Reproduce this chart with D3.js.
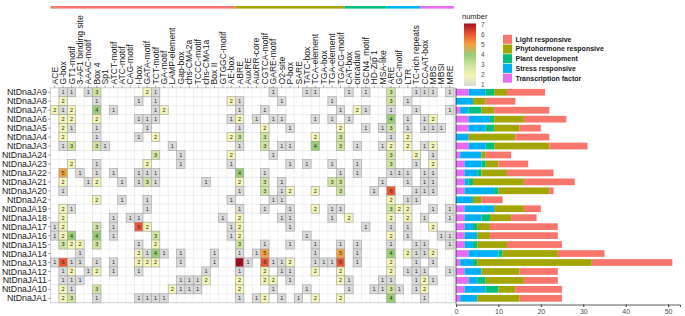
<!DOCTYPE html>
<html>
<head>
<meta charset="utf-8">
<script src="https://cdn.jsdelivr.net/npm/d3@7"></script>
<style>
  body { margin: 0; background: #fff; }
  svg { font-family: "Liberation Sans", Arial, sans-serif; display: block; }
</style>
</head>
<body>
<svg id="chart" width="685" height="316"></svg>
<script>
// Cis-element names, in the order of the columns.
const motifs = [
  'ACE', 'G-box', 'GT1-motif', '3-AF1 binding site', 'AAAC-motif', 'Box 4', 'Sp1', 'ATCT-motif',
  'ATC-motif', 'CAG-motif', 'I-box', 'GATA-motif', 'TCT-motif', 'GA-motif', 'LAMP-element', 'Gap-box',
  'chs-CMA2a', 'TCCC-motif', 'chs-CMA1a', 'Box II', 'GTGGC-motif', 'AE-box',
  'ABRE', 'AuxRE', 'AuxRR-core', 'CGTCA-motif', 'GARE-motif', 'O2-site', 'P-box', 'SARE', 'TATC-box',
  'TCA-element', 'TGA-box', 'TGA-element', 'TGACG-motif',
  'CAT-box', 'circadian', 'GCN4_motif', 'HD-Zip 1', 'MSA-like',
  'ARE', 'GC-motif', 'LTR', 'TC-rich repeats',
  'CCAAT-box', 'MBS', 'MBSI', 'MRE'
];

const groups = ['Light responsive', 'Phytohormone responsive', 'Plant development', 'Stress responsive', 'Transcription factor'];
const groupSizes = [22, 13, 5, 4, 4];
const groupColors = ['#F8766D', '#A3A500', '#00BF7D', '#00B0F6', '#E76BF3'];

const genes = [
  'NtDnaJA9', 'NtDnaJA8', 'NtDnaJA7', 'NtDnaJA6', 'NtDnaJA5', 'NtDnaJA4', 'NtDnaJA3', 'NtDnaJA24',
  'NtDnaJA23', 'NtDnaJA22', 'NtDnaJA21', 'NtDnaJA20', 'NtDnaJA2', 'NtDnaJA19', 'NtDnaJA18', 'NtDnaJA17',
  'NtDnaJA16', 'NtDnaJA15', 'NtDnaJA14', 'NtDnaJA13', 'NtDnaJA12', 'NtDnaJA11', 'NtDnaJA10', 'NtDnaJA1'
];

// Counts per gene: light (22) | phytohormone (13) | development (5) | stress (4) | TF (4)
const counts = [
  [0,1,1,0,1,3,0,0,0,0,0,2,1,0,0,0,0,0,0,0,0,0, 0,0,0,0,1,0,0,0,1,1,0,0,0, 1,0,1,0,0, 3,0,0,1, 1,1,0,1],
  [0,2,0,0,0,1,0,0,0,0,1,0,1,0,0,0,0,0,0,0,0,2, 1,0,0,0,0,1,0,0,0,0,0,1,0, 0,0,0,0,0, 3,0,1,0, 0,0,0,0],
  [2,1,2,0,0,4,0,1,0,0,0,0,1,2,0,0,0,0,0,0,0,0, 1,0,0,1,0,0,0,0,0,0,0,0,1, 0,2,1,0,0, 1,0,0,1, 0,0,0,1],
  [0,2,2,0,0,2,0,0,0,0,1,1,1,0,0,0,0,0,0,0,0,1, 2,0,1,0,1,1,0,0,0,1,0,1,0, 1,0,0,0,0, 4,0,1,0, 1,2,0,0],
  [0,2,1,0,0,1,0,0,0,0,0,1,0,0,0,0,0,0,0,0,0,0, 1,0,0,2,0,0,1,0,0,0,0,0,2, 0,0,1,0,1, 3,0,1,0, 1,1,1,0],
  [0,2,0,0,0,1,0,0,0,0,1,0,2,0,0,0,0,0,0,0,0,2, 3,0,0,3,0,0,0,0,0,2,0,0,3, 0,0,0,0,0, 1,0,2,0, 0,0,0,0],
  [0,1,3,0,0,3,1,0,0,0,0,0,0,0,1,0,0,0,0,0,0,0, 1,0,0,3,0,1,1,0,0,4,0,0,3, 0,1,0,0,1, 2,0,2,0, 1,2,0,0],
  [0,0,0,0,0,0,0,0,0,0,0,0,3,0,0,1,0,0,0,0,0,2, 0,0,0,0,1,0,0,0,0,0,0,0,0, 0,0,0,0,0, 3,0,0,2, 0,1,0,0],
  [0,0,2,0,0,1,0,0,0,0,0,2,0,0,0,1,0,0,0,0,0,1, 0,0,0,0,0,0,1,0,1,0,0,1,0, 0,1,0,0,0, 3,0,0,1, 0,2,0,0],
  [0,5,0,1,0,1,0,1,0,0,1,1,1,0,0,0,0,0,0,0,0,0, 4,0,0,1,0,0,0,0,0,0,0,0,1, 0,1,0,0,0, 1,1,1,0, 1,1,0,0],
  [0,2,0,0,1,2,0,0,1,0,1,3,1,0,0,0,0,0,1,0,0,0, 2,0,0,3,0,1,0,0,0,0,0,3,3, 0,0,0,0,1, 0,0,1,0, 1,1,0,0],
  [0,1,0,0,0,0,0,0,0,0,0,0,0,0,0,0,0,0,0,0,0,0, 1,0,0,3,0,1,2,0,0,2,0,0,3, 0,0,0,1,0, 6,0,0,1, 1,1,0,0],
  [0,0,0,0,0,2,0,0,1,0,0,1,0,0,0,0,0,0,0,0,0,1, 0,0,0,0,1,1,0,0,0,0,0,0,0, 0,0,0,0,0, 2,0,1,1, 0,0,0,0],
  [0,2,1,0,0,0,0,0,0,0,0,1,0,0,0,0,0,0,0,0,0,0, 1,0,0,1,0,0,1,0,0,2,0,1,1, 0,0,0,0,0, 3,2,2,0, 0,1,0,1],
  [0,2,0,0,0,0,0,1,0,1,1,0,0,0,0,0,0,0,0,0,1,0, 2,0,0,0,0,1,1,0,0,0,0,1,0, 2,0,0,0,0, 2,0,2,0, 1,0,0,1],
  [1,2,0,0,0,3,0,1,0,0,6,2,0,0,0,0,0,0,0,0,0,1, 2,0,0,0,0,0,1,0,0,0,0,0,0, 0,0,1,0,0, 1,0,1,0, 0,2,0,0],
  [1,2,4,0,0,4,0,1,0,0,0,0,3,0,0,0,0,0,0,0,0,1, 2,0,0,0,0,0,0,0,1,0,0,0,0, 0,0,0,0,0, 2,0,1,0, 0,0,1,1],
  [0,3,2,2,0,3,0,0,0,0,1,0,2,0,0,0,0,0,0,0,0,0, 3,0,0,1,0,0,1,0,0,1,0,0,1, 0,1,0,0,0, 1,0,0,1, 1,0,0,1],
  [0,0,0,1,0,0,0,0,0,0,2,1,4,1,0,1,0,0,0,1,0,0, 1,0,1,5,0,0,0,0,0,1,0,0,5, 0,1,0,0,0, 4,0,2,1, 1,2,0,0],
  [1,6,1,1,0,1,0,1,0,0,2,2,2,0,0,1,0,0,0,1,0,0, 7,1,0,6,1,1,2,0,0,1,1,1,6, 0,1,0,0,0, 2,0,0,1, 0,1,0,0],
  [0,1,2,0,1,2,0,1,0,0,1,0,0,0,0,0,0,0,1,0,0,0, 1,0,0,2,0,1,1,0,0,2,0,0,2, 0,0,0,0,0, 2,0,1,1, 1,0,0,1],
  [0,1,1,1,0,0,0,0,0,0,0,0,0,0,0,1,1,1,2,0,0,0, 2,0,0,2,2,0,1,0,0,0,0,0,2, 1,0,0,0,1, 1,0,0,1, 2,1,0,0],
  [0,2,1,0,0,3,0,0,0,0,0,0,0,0,2,1,1,1,0,0,0,0, 2,0,0,0,1,0,0,0,1,0,0,0,0, 1,0,0,1,1, 3,1,0,1, 2,0,0,0],
  [0,2,3,0,0,1,0,0,0,0,1,1,1,1,0,0,0,0,0,0,0,0, 1,0,1,2,0,1,0,1,0,2,0,0,2, 0,0,0,0,0, 4,0,0,0, 1,0,0,0]
];

const legendValues = [1, 2, 3, 4, 5, 6, 7];
const legendColors = ['#dadada', '#f4f4b6', '#cde59e', '#98cd74', '#f5a03e', '#ec5530', '#a50f22'];
const barTicks = [0, 10, 20, 30, 40, 50];

const svg = d3.select('#chart');

const x = d3.scaleBand().domain(motifs).range([50.5, 454]);
const y = d3.scaleBand().domain(genes).range([87.8, 302.8]);
const color = d3.scaleLinear().domain(legendValues).range(legendColors);

// Which group every motif belongs to.
const motifGroup = groupSizes.flatMap((n, i) => d3.range(n).map(() => i));

// Panel grid.
const grid = svg.append('g');
grid.selectAll('line.v')
  .data(d3.range(motifs.length + 1))
  .join('line')
  .attr('x1', i => 50.5 + i * x.step())
  .attr('x2', i => 50.5 + i * x.step())
  .attr('y1', y.range()[0])
  .attr('y2', y.range()[1])
  .attr('stroke', '#e6e6e6')
  .attr('stroke-width', 0.6);
grid.selectAll('line.h')
  .data(d3.range(genes.length + 1))
  .join('line')
  .attr('x1', x.range()[0])
  .attr('x2', x.range()[1])
  .attr('y1', i => y.range()[0] + i * y.step())
  .attr('y2', i => y.range()[0] + i * y.step())
  .attr('stroke', '#e6e6e6')
  .attr('stroke-width', 0.6);

svg.append('rect')
  .attr('x', x.range()[0]).attr('y', y.range()[0])
  .attr('width', x.range()[1] - x.range()[0])
  .attr('height', y.range()[1] - y.range()[0])
  .attr('fill', 'none')
  .attr('stroke', '#c8c8c8')
  .attr('stroke-width', 0.7);

// Group strip above the column labels.
let start = 0;
groupSizes.forEach((n, i) => {
  svg.append('rect')
    .attr('x', x(motifs[start]))
    .attr('y', 6)
    .attr('width', n * x.step())
    .attr('height', 2.6)
    .attr('fill', groupColors[i]);
  start += n;
});

// Cells.
const cells = [];
counts.forEach((row, r) => row.forEach((v, c) => {
  if (v > 0) cells.push({ gene: genes[r], motif: motifs[c], value: v });
}));

svg.append('g').selectAll('rect')
  .data(cells)
  .join('rect')
  .attr('x', d => x(d.motif))
  .attr('y', d => y(d.gene))
  .attr('width', x.bandwidth())
  .attr('height', y.bandwidth())
  .attr('fill', d => color(d.value))
  .attr('stroke', '#a3a3a3')
  .attr('stroke-width', 0.6);

svg.append('g').selectAll('text')
  .data(cells)
  .join('text')
  .attr('x', d => x(d.motif) + x.bandwidth() / 2)
  .attr('y', d => y(d.gene) + y.bandwidth() / 2)
  .attr('dy', '0.35em')
  .attr('text-anchor', 'middle')
  .attr('font-size', 5.5)
  .attr('fill', '#2b2b2b')
  .text(d => d.value);

// Column labels and ticks.
svg.append('g').selectAll('line')
  .data(motifs)
  .join('line')
  .attr('x1', d => x(d) + x.bandwidth() / 2)
  .attr('x2', d => x(d) + x.bandwidth() / 2)
  .attr('y1', 85.6)
  .attr('y2', 87.8)
  .attr('stroke', '#555')
  .attr('stroke-width', 0.5);

svg.append('g').selectAll('text')
  .data(motifs)
  .join('text')
  .attr('transform', d => `translate(${x(d) + x.bandwidth() / 2},84.5) rotate(-90)`)
  .attr('dy', '0.35em')
  .attr('font-size', 8.6)
  .attr('fill', '#1a1a1a')
  .text(d => d);

// Row labels and ticks.
svg.append('g').selectAll('line')
  .data(genes)
  .join('line')
  .attr('x1', 48)
  .attr('x2', 50.5)
  .attr('y1', d => y(d) + y.bandwidth() / 2)
  .attr('y2', d => y(d) + y.bandwidth() / 2)
  .attr('stroke', '#555')
  .attr('stroke-width', 0.5);

svg.append('g').selectAll('text')
  .data(genes)
  .join('text')
  .attr('x', 47)
  .attr('y', d => y(d) + y.bandwidth() / 2)
  .attr('dy', '0.35em')
  .attr('text-anchor', 'end')
  .attr('font-size', 8.8)
  .attr('fill', '#1a1a1a')
  .text(d => d);

// Stacked bars: totals per group for each gene.
const totals = counts.map(row => {
  const t = [0, 0, 0, 0, 0];
  row.forEach((v, c) => { t[motifGroup[c]] += v; });
  return t;
});

const xb = d3.scaleLinear().domain([0, 52.8]).range([456, 680]);
const stack = d3.stack().keys([4, 3, 2, 1, 0]).value((d, k) => d[k]);
const series = stack(totals);
const barH = y.bandwidth() * 0.75;

svg.append('g').selectAll('g')
  .data(series)
  .join('g')
  .attr('fill', s => groupColors[s.key])
  .selectAll('rect')
  .data(s => s.map((p, i) => ({ p, gene: genes[i] })))
  .join('rect')
  .attr('x', d => xb(d.p[0]))
  .attr('width', d => xb(d.p[1]) - xb(d.p[0]))
  .attr('y', d => y(d.gene) + (y.bandwidth() - barH) / 2)
  .attr('height', barH);

const xAxis = svg.append('g')
  .attr('transform', 'translate(0,304.5)')
  .call(d3.axisBottom(xb).tickValues(barTicks).tickSize(2.5).tickPadding(2));
xAxis.select('.domain').attr('stroke', '#333').attr('stroke-width', 0.8);
xAxis.selectAll('.tick line').attr('stroke', '#333');
xAxis.selectAll('text').attr('font-size', 7).attr('fill', '#4d4d4d').attr('font-family', null);

svg.append('line')
  .attr('x1', 456).attr('x2', 456)
  .attr('y1', y.range()[0]).attr('y2', 304.5)
  .attr('stroke', '#333').attr('stroke-width', 0.8);

// Colour legend.
svg.append('text')
  .attr('x', 462).attr('y', 19)
  .attr('font-size', 7.5)
  .attr('fill', '#1a1a1a')
  .text('number');

const ly = d3.scaleLinear().domain([1, 7]).range([84.5, 25]);
const grad = svg.append('defs').append('linearGradient')
  .attr('id', 'numGrad')
  .attr('x1', 0).attr('y1', 1).attr('x2', 0).attr('y2', 0);
grad.selectAll('stop')
  .data(legendValues)
  .join('stop')
  .attr('offset', d => (d - 1) / 6)
  .attr('stop-color', d => color(d));

svg.append('rect')
  .attr('x', 464).attr('y', 23.5)
  .attr('width', 12).attr('height', 62.5)
  .attr('fill', 'url(#numGrad)');

svg.append('g').selectAll('text')
  .data(legendValues)
  .join('text')
  .attr('x', 481)
  .attr('y', d => ly(d))
  .attr('dy', '0.35em')
  .attr('font-size', 6.5)
  .attr('fill', '#4d4d4d')
  .text(d => d);

// Group legend.
const lg = svg.append('g').selectAll('g')
  .data(groups)
  .join('g')
  .attr('transform', (d, i) => `translate(503,${39.3 + i * 9.7})`);
lg.append('rect')
  .attr('x', 0).attr('y', -4.5)
  .attr('width', 9).attr('height', 9)
  .attr('fill', (d, i) => groupColors[i]);
lg.append('text')
  .attr('x', 12.5)
  .attr('dy', '0.35em')
  .attr('font-size', 7)
  .attr('font-weight', 'bold')
  .attr('fill', '#1a1a1a')
  .text(d => d);
</script>
</body>
</html>
